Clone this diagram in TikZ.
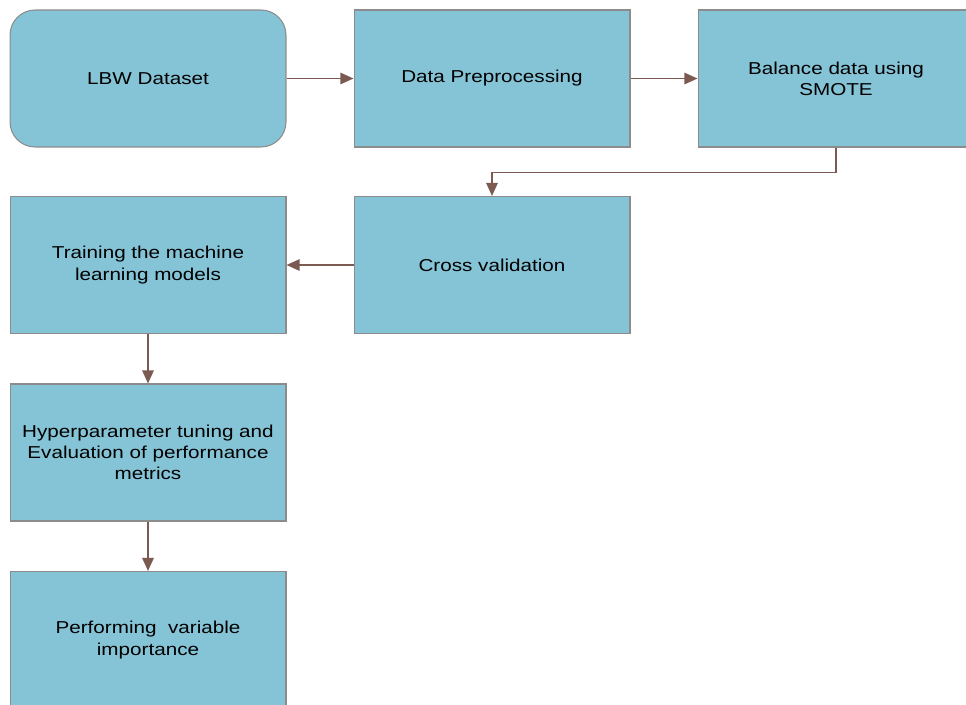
\documentclass[tikz,border=0pt]{standalone}
\usepackage{fontspec}
\setmainfont{Liberation Sans}[FakeStretch=1.2]
\usepackage{tikz}
\usetikzlibrary{arrows.meta}
\definecolor{boxFill}{HTML}{85C4D6}
\definecolor{boxLine}{HTML}{8C8C8C}
\definecolor{flowLine}{HTML}{7B5A52}

\begin{document}
\begin{tikzpicture}[x=0.02cm, y=-0.02cm,
font=\fontsize{9.8}{12}\selectfont,
StepBox/.style={draw=boxLine, fill=boxFill, line width=0.6pt, minimum width=5.52cm, minimum height=2.74cm, align=center, inner sep=2pt},
FlowArrow/.style={draw=flowLine, line width=1.1pt, -{Triangle[length=7.5pt, width=6.5pt]}}]
\useasboundingbox (0,0) rectangle (966,704);
\def\colA{148}
\def\colB{492}
\def\colC{836}
% top row
\node [StepBox, rounded corners=0.5cm] (lbw) at (\colA, 78.5) {LBW Dataset};
\node [StepBox] (prep) at (\colB, 78.5) {Data Preprocessing};
\node [StepBox] (smote) at (\colC, 78.5) {Balance data using\\SMOTE};
% second row
\node [StepBox] (train) at (\colA, 265) {Training the machine\\learning models};
\node [StepBox] (cv) at (\colB, 265) {Cross validation};
% left column
\node [StepBox] (tune) at (\colA, 452.5) {Hyperparameter tuning and\\Evaluation of performance\\metrics};
\node [StepBox] (varimp) at (\colA, 640) {Performing~ variable\\importance};
% connectors
\draw [FlowArrow] (lbw) -- (prep);
\draw [FlowArrow] (prep) -- (smote);
\draw [FlowArrow] (smote.south) -- ++(0,25) -| (cv.north);
\draw [FlowArrow] (cv) -- (train);
\draw [FlowArrow] (train) -- (tune);
\draw [FlowArrow] (tune) -- (varimp);
\end{tikzpicture}
\end{document}
